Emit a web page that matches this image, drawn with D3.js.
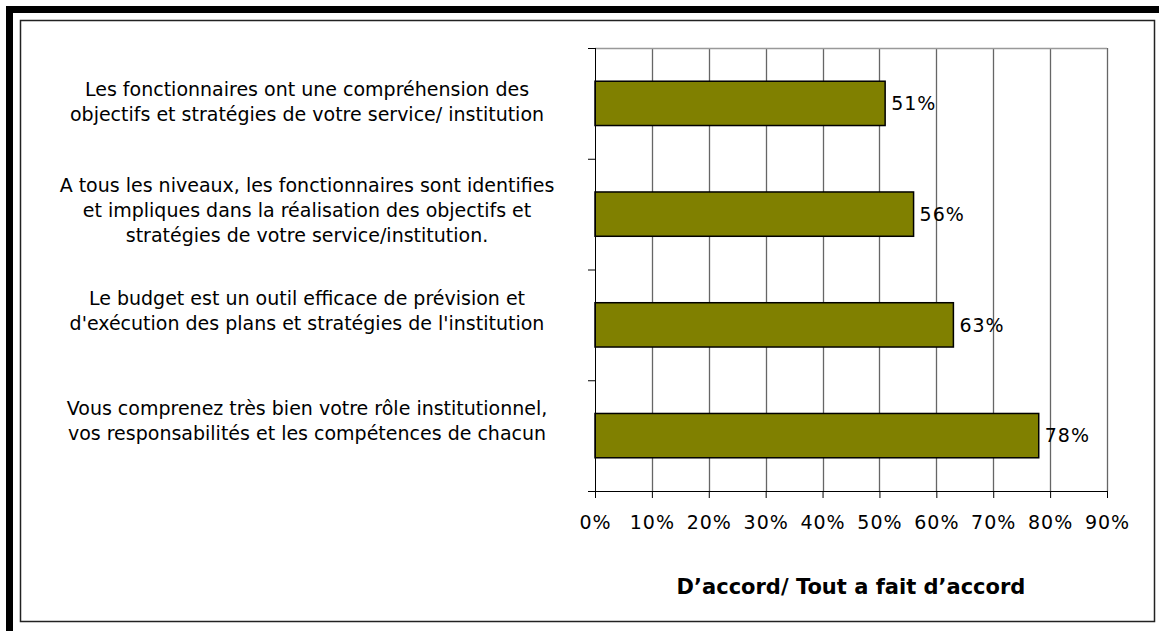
<!DOCTYPE html>
<html>
<head>
<meta charset="utf-8">
<script src="https://cdn.jsdelivr.net/npm/d3@7"></script>
<style>
  body { margin: 0; background: #fff; }
  svg text { font-family: "DejaVu Sans", Verdana, sans-serif; fill: #000; }
  .axis path, .axis line { stroke: #000; }
  .grid line { stroke: #666; }
</style>
</head>
<body>
<div id="chart"></div>
<script>
// data
var questions = [
  ["Les fonctionnaires ont une compréhension des", "objectifs et stratégies de votre service/ institution"],
  ["A tous les niveaux, les fonctionnaires sont identifies", "et impliques dans la réalisation des objectifs et", "stratégies de votre service/institution."],
  ["Le budget est un outil efficace de prévision et", "d'exécution des plans et stratégies de l'institution"],
  ["Vous comprenez très bien votre rôle institutionnel,", "vos responsabilités et les compétences de chacun"]
];
var agree = [0.51, 0.56, 0.63, 0.78];
var xTicks = [0, 0.1, 0.2, 0.3, 0.4, 0.5, 0.6, 0.7, 0.8, 0.9];
var xTitle = "D\u2019accord/ Tout a fait d\u2019accord";

var W = 1159, H = 631;
var margin = { left: 595, right: 52, top: 48, bottom: 140 };
var width = W - margin.left - margin.right;
var height = H - margin.top - margin.bottom;

var svg = d3.select("#chart").append("svg")
    .attr("width", W)
    .attr("height", H);

// frame
svg.append("path")
    .attr("d", "M9.5,631 V9.5 H1159")
    .attr("fill", "none")
    .attr("stroke", "#000")
    .attr("stroke-width", 7);
svg.append("rect")
    .attr("x", 20.5).attr("y", 20.5)
    .attr("width", 1134).attr("height", 601)
    .attr("fill", "none")
    .attr("stroke", "#222")
    .attr("stroke-width", 1.5);

var g = svg.append("g")
    .attr("transform", "translate(" + margin.left + "," + margin.top + ")");

var x = d3.scaleLinear().domain([0, 0.9]).range([0, width]);
var y = d3.scaleBand().domain(d3.range(questions.length)).range([0, height])
    .paddingInner(0.6).paddingOuter(0.3);
var yEdges = d3.scaleLinear().domain([0, questions.length]).range([0, height]);

// grid
g.append("g").attr("class", "grid")
    .selectAll("line")
    .data(xTicks.slice(1))
    .enter().append("line")
    .attr("x1", function(d){ return Math.round(x(d)) + 0.5 })
    .attr("x2", function(d){ return Math.round(x(d)) + 0.5 })
    .attr("y1", 0).attr("y2", height)
    .attr("stroke", function(d, i){ return i === xTicks.length - 2 ? "#aaa" : "#666" })
    .attr("stroke-width", 1.3);

g.append("line")
    .attr("x1", 0).attr("x2", width)
    .attr("y1", 0.5).attr("y2", 0.5)
    .attr("stroke", "#999")
    .attr("stroke-width", 1.5);

// bars
g.selectAll(".bar")
    .data(agree).enter()
    .append("rect")
    .attr("class", "bar")
    .attr("x", 0)
    .attr("y", function(d, i){ return y(i) })
    .attr("width", function(d){ return x(d) })
    .attr("height", y.bandwidth())
    .attr("fill", "#808000")
    .attr("stroke", "#000")
    .attr("stroke-width", 1.5);

g.selectAll(".val")
    .data(agree).enter()
    .append("text")
    .attr("class", "val")
    .attr("x", function(d){ return x(d) + 6 })
    .attr("y", function(d, i){ return y(i) + y.bandwidth() / 2 })
    .attr("dy", "0.36em")
    .style("font-size", "19px")
    .style("letter-spacing", "1px")
    .text(function(d){ return Math.round(d * 100) + "%" });

// x axis
var xAxis = d3.axisBottom(x)
    .tickValues(xTicks)
    .tickFormat(d3.format(".0%"))
    .tickSize(7)
    .tickPadding(18);

g.append("g")
    .attr("class", "axis")
    .attr("transform", "translate(0," + height + ")")
    .call(xAxis)
    .call(function(s){
        s.select(".domain").attr("d", "M-7,0.5H" + width);
        s.selectAll("text").style("font-size", "19px").style("letter-spacing", "1px");
    });

// y axis (category separators)
var yAxis = d3.axisLeft(yEdges)
    .tickValues(d3.range(questions.length + 1))
    .tickSize(7)
    .tickFormat("");

g.append("g")
    .attr("class", "axis")
    .call(yAxis)
    .call(function(s){ s.select(".domain").attr("d", "M0.5,0V" + height); });

// category labels (excel drifts the lower labels up a bit)
var lineH = 25;
var labelShift = [-2, -4, -14, -15];
g.selectAll(".cat")
    .data(questions).enter()
    .append("text")
    .attr("class", "cat")
    .attr("text-anchor", "middle")
    .attr("x", 307 - margin.left)
    .attr("y", function(d, i){ return y(i) + y.bandwidth() / 2 - (d.length - 1) * lineH / 2 + labelShift[i] })
    .style("font-size", "19px")
    .selectAll("tspan")
    .data(function(d){ return d })
    .enter().append("tspan")
    .attr("x", 307 - margin.left)
    .attr("dy", function(d, i){ return i === 0 ? "0.36em" : lineH })
    .text(function(d){ return d });

// axis title
g.append("text")
    .attr("x", 851 - margin.left)
    .attr("y", height + 103)
    .attr("text-anchor", "middle")
    .style("font-size", "21px")
    .style("font-weight", "bold")
    .text(xTitle);
</script>
</body>
</html>
